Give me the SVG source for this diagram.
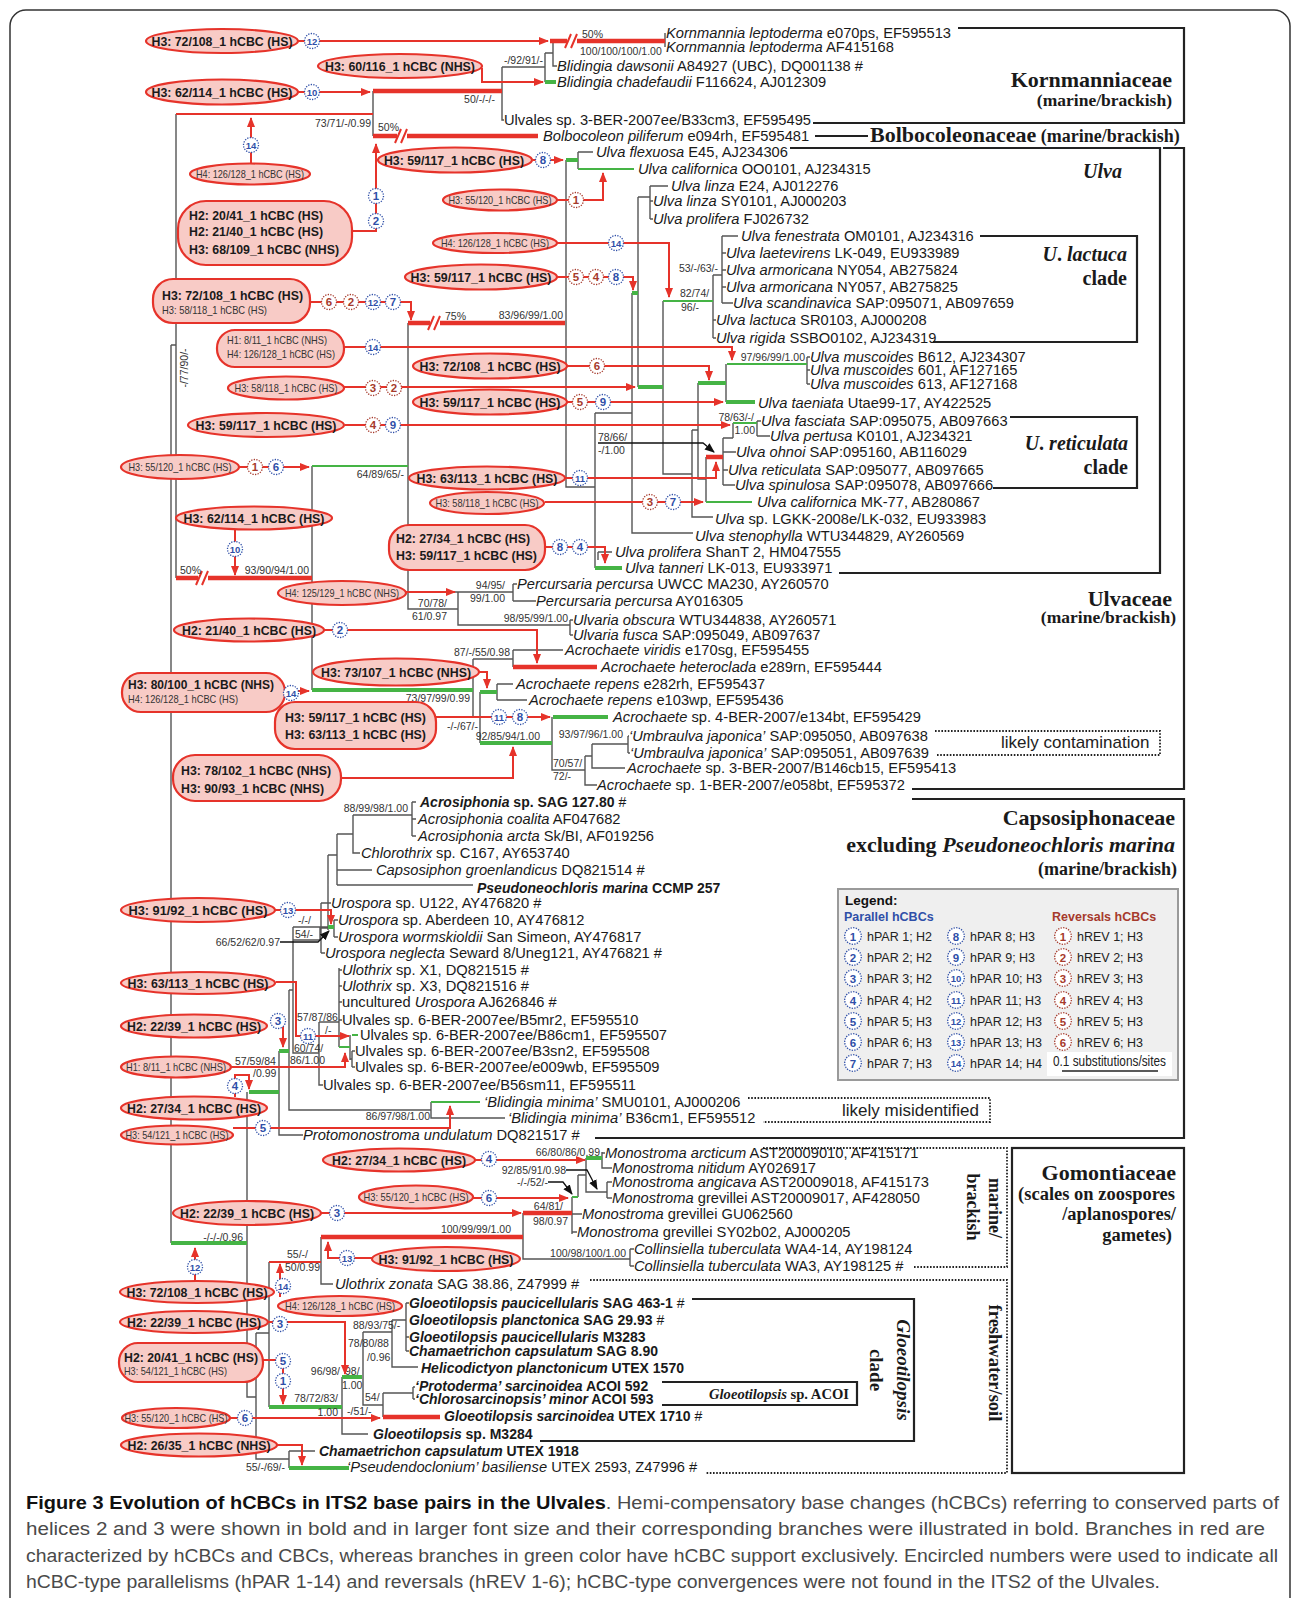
<svg xmlns="http://www.w3.org/2000/svg" width="1295" height="1598" viewBox="0 0 1295 1598">
<defs>
<marker id="ah" viewBox="0 0 10 10" refX="9" refY="5" markerWidth="10" markerHeight="10" markerUnits="userSpaceOnUse" orient="auto"><path d="M0,1 L10,5 L0,9 Z" fill="#e6332a"/></marker>
<marker id="bh" viewBox="0 0 10 10" refX="9" refY="5" markerWidth="10" markerHeight="10" markerUnits="userSpaceOnUse" orient="auto"><path d="M0,1 L10,5 L0,9 Z" fill="#111"/></marker>
<style>
.br{fill:none;stroke:#555;stroke-width:1.4}
.gn{fill:none;stroke:#45b445;stroke-width:2.2}
.gt{fill:none;stroke:#45b445;stroke-width:4.2}
.rt{fill:none;stroke:#e6332a;stroke-width:4.5}
.rl{fill:none;stroke:#e6332a;stroke-width:2}
.ra{fill:none;stroke:#e6332a;stroke-width:2;marker-end:url(#ah)}
.ka{fill:none;stroke:#111;stroke-width:1.3;marker-end:url(#bh)}
.bx{fill:none;stroke:#222;stroke-width:2.2}
.dt{fill:none;stroke:#222;stroke-width:1.8;stroke-dasharray:1.6 1.6}
.el{fill:#f8cbc6;stroke:#e6332a;stroke-width:2.2}
text{font-family:"Liberation Sans",Arial,sans-serif}
.t{font-size:14.7px;fill:#1a1a1a}
.tb{font-size:14px;font-weight:bold;fill:#1a1a1a}
.i{font-style:italic}
.s{font-size:10.5px;fill:#333}
.e{text-anchor:end}
.lb{font-size:13.5px;font-weight:bold;fill:#1a1a1a}
.ls{font-size:10.5px;fill:#333}
.m{text-anchor:middle}
.cb circle{fill:#fff;stroke:#2f4fa8;stroke-width:1.3;stroke-dasharray:1.3 1.3}
.cb text{fill:#2f4fa8;font-size:11.5px;font-weight:bold;text-anchor:middle}
.cr circle{fill:#fff;stroke:#a63a2c;stroke-width:1.3;stroke-dasharray:1.3 1.3}
.cr text{fill:#a63a2c;font-size:11.5px;font-weight:bold;text-anchor:middle}
.d2{font-size:9.5px !important}
.fam{font-family:"Liberation Serif","Times New Roman",serif;font-weight:bold;fill:#1a1a1a}
.lg{font-size:12.5px;fill:#222}
.cap{font-size:17.5px;fill:#4a4a4a}
</style>
</defs>
<rect width="1295" height="1598" fill="#fff"/>
<rect x="10" y="10" width="1280" height="1620" rx="16" fill="none" stroke="#333" stroke-width="1.5"/>

<g id="family-boxes">
<path class="bx" d="M958,28H1184V123H813"/>
<path class="bx" d="M815,136H868"/>
<path class="bx" d="M790,148H1160V573H839"/>
<path class="bx" d="M1163,148H1184V789H912"/>
<path class="bx" d="M980,236H1137V342H933"/>
<path class="bx" d="M1010,417H1137V488H993"/>
<path class="dt" d="M935,731H1160V755H937"/>
<path class="bx" d="M912,799H1184V1138H595"/>
<path class="dt" d="M748,1098H990V1122H763"/>
<rect class="bx" x="1012" y="1148" width="172" height="325"/>
<path class="dt" d="M763,1148H1007V1267H913"/>
<path class="dt" d="M590,1280H1007V1473H705"/>
<path class="bx" d="M692,1299H914V1441H540"/>
<path class="bx" d="M662,1382H857V1405H662"/>
</g>

<g id="family-labels">
<text class="fam" x="1172" y="87" font-size="22" text-anchor="end">Kornmanniaceae</text>
<text class="fam" x="1172" y="106" font-size="17.5" text-anchor="end">(marine/brackish)</text>
<text class="fam" x="870" y="142" font-size="22">Bolbocoleonaceae<tspan font-size="18"> (marine/brackish)</tspan></text>
<text class="fam" x="1122" y="178" font-size="20" font-style="italic" text-anchor="end">Ulva</text>
<text class="fam" x="1127" y="261" font-size="20" text-anchor="end"><tspan font-style="italic">U</tspan>. <tspan font-style="italic">lactuca</tspan></text>
<text class="fam" x="1127" y="285" font-size="20" text-anchor="end">clade</text>
<text class="fam" x="1128" y="450" font-size="20" text-anchor="end"><tspan font-style="italic">U</tspan>. <tspan font-style="italic">reticulata</tspan></text>
<text class="fam" x="1128" y="474" font-size="20" text-anchor="end">clade</text>
<text class="fam" x="1172" y="606" font-size="22" text-anchor="end">Ulvaceae</text>
<text class="fam" x="1176" y="623" font-size="17.5" text-anchor="end">(marine/brackish)</text>
<text x="1001" y="748" font-family="Liberation Serif,serif" font-size="17" fill="#222">likely contamination</text>
<text class="fam" x="1175" y="825" font-size="22" text-anchor="end">Capsosiphonaceae</text>
<text class="fam" x="1175" y="852" font-size="22" text-anchor="end">excluding <tspan font-style="italic">Pseudoneochloris marina</tspan></text>
<text class="fam" x="1177" y="875" font-size="18" text-anchor="end">(marine/brackish)</text>
<text x="842" y="1116" font-family="Liberation Serif,serif" font-size="17" fill="#222">likely misidentified</text>
<text class="fam" x="1176" y="1180" font-size="22" text-anchor="end">Gomontiaceae</text>
<text class="fam" x="1175" y="1200" font-size="18.5" text-anchor="end">(scales on zoospores</text>
<text class="fam" x="1176" y="1220" font-size="18.5" text-anchor="end">/aplanospores/</text>
<text class="fam" x="1172" y="1241" font-size="18.5" text-anchor="end">gametes)</text>
<text class="fam" font-size="18" text-anchor="middle" transform="translate(989,1208) rotate(90)">marine/</text>
<text class="fam" font-size="18" text-anchor="middle" transform="translate(967,1207) rotate(90)">brackish</text>
<text class="fam" font-size="18.5" text-anchor="middle" transform="translate(989,1363) rotate(90)">freshwater/soil</text>
<text class="fam" font-size="19" font-style="italic" text-anchor="middle" transform="translate(897,1370) rotate(90)">Gloeotilopsis</text>
<text class="fam" font-size="19" text-anchor="middle" transform="translate(870,1370) rotate(90)">clade</text>
<text class="fam" x="709" y="1399" font-size="15" textLength="140" lengthAdjust="spacingAndGlyphs"><tspan font-style="italic">Gloeotilopsis</tspan> sp. ACOI</text>
</g>

<g id="tree">
<path class="br" d="M176,114V578 M171,345V1243 M171,345H176 M373,91V136 M502,67V120H504 M502,67H545 M545,53V82 M545,53H553 M553,41V66H557 M566,160V487H595 M578,152V169 M578,152H593 M595,413V568 M595,413H632 M632,293V533H693 M638,197V387 M638,197H650 M650,186V219 M650,186H668 M650,201H653 M650,219H653 M663,301V474H692 M692,430V517H713 M692,430H698 M698,383V479H706 M706,457V502 M713,275V338 M713,275H722 M722,236V303 M722,236H738 M722,253H726 M722,270H726 M722,287H726 M722,303H733 M713,320H716 M713,338H716 M726,364V402 M807,357V384 M807,357H810 M807,370H810 M807,384H810 M723,438V485 M723,452H736 M723,470H728 M723,485H735 M723,438H733 M733,423V438 M757,421V436 M757,421H761 M757,436H770 M598,552H612 M598,552V560 M312,466V690 M408,323V609H458 M458,592V625H570 M570,620V635 M570,620H573 M570,635H573 M455,592H513 M513,584V601 M513,584H517 M513,601H536 M473,659V717 M473,659H513 M513,650V667 M513,650H563 M473,717H480 M480,692V743 M497,684V700 M497,684H513 M497,700H527 M552,717V770H585 M585,756V785H597 M585,756H592 M592,744V768H625 M592,744H628 M628,736V753 M628,736H629 M628,753H630 M665,33V47 M247,1092V1397H256 M256,1333V1459H289 M256,1333H269 M269,1262V1407 M289,1451V1468 M289,1451H315 M279,1051V1135H303 M289,990V1110H431 M289,990H293 M293,927V1053H319 M319,1022V1085H323 M319,1022H339 M339,968V1047 M339,970H342 M339,986H342 M339,1002H342 M339,1020H342 M350,1035V1060 M350,1059H352 M352,1051V1067 M352,1051H355 M352,1067H355 M431,1102V1118H505 M293,927H328 M293,940H320V927 M328,855V930 M321,903V953 M321,903H331 M321,953H325 M321,928H328 M334,920V937 M334,920H338 M334,937H338 M328,855H337 M337,834V885 M337,870H372 M337,885H473 M337,834H353 M353,815V853H360 M353,815H412 M412,802V836 M412,802H416 M412,819H416 M412,836H416 M321,1237V1284H333 M523,1213V1259H630 M630,1249V1266 M630,1249H634 M630,1266H634 M572,1197V1234 M572,1214H582 M572,1232H577 M578,1175V1197 M578,1175H586 M586,1158V1192H607 M607,1182V1198 M607,1182H612 M607,1198H612 M602,1152V1168H612 M602,1153H605 M342,1377V1434H368 M363,1332V1405H383 M363,1332H392 M392,1320V1367H418 M392,1320H406 M406,1303V1351 M406,1303H409 M406,1337H409 M406,1351H409 M383,1393V1417 M383,1393H413 M413,1387V1399 M413,1387H415 M413,1399H415"/>
<path class="gn" d="M578,169H634 M312,466H408 M663,301H713 M727,364H807 M733,423H757 M706,502H752 M431,1102H480 M339,1047H350 M352,1035H358 M572,1197H578"/>
<path class="gt" d="M545,82H556 M566,160H578 M632,293H638 M638,387H663 M698,383H726 M726,402H755 M595,568H622 M312,690H473 M480,692H497 M480,743H552 M553,717H608 M328,927H334 M279,1051H289 M249,1092H279 M171,1243H247 M586,1158H602 M269,1407H342 M342,1377H362 M289,1468H349"/>
<path class="rt" d="M550,41H665 M373,91H502 M373,136H538 M408,323H565 M176,578H312 M513,667H597 M706,457H723 M321,1237H523 M523,1213H572 M383,1417H440"/>
<path class="rl" d="M176,114H373 M269,1262H321"/>
<g id="breaks">
<rect x="567" y="34" width="10" height="14" fill="#fff"/><path class="rl" d="M565,48L571,34 M571,48L577,34"/>
<rect x="397" y="129" width="10" height="14" fill="#fff"/><path class="rl" d="M395,143L401,129 M401,143L407,129"/>
<rect x="430" y="316" width="10" height="14" fill="#fff"/><path class="rl" d="M428,330L434,316 M434,330L440,316"/>
<rect x="198" y="571" width="10" height="14" fill="#fff"/><path class="rl" d="M196,585L202,571 M202,585L208,571"/>
</g>
</g>

<g id="support-values">
<text class="s e" x="543" y="64">-/92/91/-</text>
<text class="s" x="582" y="38">50%</text>
<text class="s" x="580" y="55">100/100/100/1.00</text>
<text class="s e" x="495" y="103">50/-/-/-</text>
<text class="s e" x="371" y="127">73/71/-/0.99</text>
<text class="s" x="378" y="131">50%</text>
<text class="s e" x="718" y="272">53/-/63/-</text>
<text class="s" x="680" y="297">82/74/</text>
<text class="s" x="681" y="311">96/-</text>
<text class="s" x="445" y="320">75%</text>
<text class="s e" x="563" y="319">83/96/99/1.00</text>
<text class="s e" x="805" y="361">97/96/99/1.00</text>
<text class="s e" x="754" y="421">78/63/-/</text>
<text class="s e" x="755" y="434">1.00</text>
<text class="s" x="598" y="441">78/66/</text>
<text class="s" x="598" y="454">-/1.00</text>
<text class="s e" x="404" y="478">64/89/65/-</text>
<text class="s" x="180" y="574">50%</text>
<text class="s e" x="309" y="574">93/90/94/1.00</text>
<text class="s e" x="505" y="589">94/95/</text>
<text class="s e" x="505" y="602">99/1.00</text>
<text class="s e" x="447" y="607">70/78/</text>
<text class="s e" x="447" y="620">61/0.97</text>
<text class="s e" x="568" y="622">98/95/99/1.00</text>
<text class="s e" x="510" y="656">87/-/55/0.98</text>
<text class="s e" x="470" y="702">73/97/99/0.99</text>
<text class="s e" x="478" y="730">-/-/67/-</text>
<text class="s e" x="540" y="740">92/85/94/1.00</text>
<text class="s e" x="623" y="738">93/97/96/1.00</text>
<text class="s" x="553" y="767">70/57/</text>
<text class="s" x="553" y="780">72/-</text>
<text class="s e" x="408" y="812">88/99/98/1.00</text>
<text class="s" x="298" y="924">-/-/</text>
<text class="s" x="295" y="938">54/-</text>
<text class="s e" x="280" y="946">66/52/62/0.97</text>
<text class="s" x="297" y="1021">57/87/86</text>
<text class="s" x="325" y="1034">/-</text>
<text class="s" x="294" y="1052">60/74/</text>
<text class="s" x="290" y="1064">86/1.00</text>
<text class="s" x="235" y="1065">57/59/84</text>
<text class="s" x="253" y="1077">/0.99</text>
<text class="s e" x="430" y="1120">86/97/98/1.00</text>
<text class="s e" x="600" y="1156">66/80/86/0.99</text>
<text class="s e" x="566" y="1174">92/85/91/0.98</text>
<text class="s e" x="548" y="1186">-/-/52/-</text>
<text class="s e" x="563" y="1210">64/81/</text>
<text class="s e" x="568" y="1225">98/0.97</text>
<text class="s e" x="511" y="1233">100/99/99/1.00</text>
<text class="s e" x="626" y="1257">100/98/100/1.00</text>
<text class="s e" x="243" y="1241">-/-/-/0.96</text>
<text class="s" x="287" y="1258">55/-/</text>
<text class="s" x="285" y="1271">50/0.99</text>
<text class="s" x="353" y="1329">88/93/75/-</text>
<text class="s" x="348" y="1347">78/80/88</text>
<text class="s" x="367" y="1361">/0.96</text>
<text class="s e" x="340" y="1375">96/98/</text>
<text class="s" x="345" y="1375">98/</text>
<text class="s" x="342" y="1389">1.00</text>
<text class="s e" x="338" y="1402">78/72/83/</text>
<text class="s e" x="338" y="1416">1.00</text>
<text class="s" x="365" y="1401">54/</text>
<text class="s" x="347" y="1415">-/51/-</text>
<text class="s e" x="285" y="1471">55/-/69/-</text>
<text class="s" text-anchor="middle" transform="translate(188,368) rotate(-90)">-/77/90/-</text>
</g>

<g id="connectors">
<path class="ra" d="M298,41H548"/>
<path class="ra" d="M482,68V82H543"/>
<path class="ra" d="M298,92H370"/>
<path class="ra" d="M251,163V118"/>
<path class="ra" d="M352,231H376V144"/>
<path class="ra" d="M533,160H563"/>
<path class="ra" d="M557,200H603V173"/>
<path class="ra" d="M557,243H669V297"/>
<path class="ra" d="M557,277H633V290"/>
<path class="ra" d="M310,302H411V320"/>
<path class="ra" d="M344,347H732V360"/>
<path class="ra" d="M566,366H709V380"/>
<path class="ra" d="M344,387H635"/>
<path class="ra" d="M566,402H723"/>
<path class="ra" d="M345,425H730"/>
<path class="ra" d="M238,467H309"/>
<path class="ra" d="M565,478H716V462"/>
<path class="ra" d="M545,502H703"/>
<path class="ra" d="M235,530V575"/>
<path class="ra" d="M545,547H605V563"/>
<path class="ra" d="M406,592H455"/>
<path class="ra" d="M324,630H537V663"/>
<path class="ra" d="M478,672H487V688"/>
<path class="ra" d="M285,691H309"/>
<path class="ra" d="M436,717H550"/>
<path class="ra" d="M341,778H513V747"/>
<path class="ra" d="M275,910H331V924"/>
<path class="ra" d="M276,982H296V1036H349"/>
<path class="ra" d="M283,1021V1047"/>
<path class="ra" d="M230,1067H345V1053"/>
<path class="ra" d="M235,1097V1075H249V1089"/>
<path class="ra" d="M233,1128H450V1106"/>
<path class="ra" d="M475,1160H585"/>
<path class="ra" d="M473,1198H568"/>
<path class="ra" d="M321,1213H521"/>
<path class="ra" d="M372,1258H328V1242"/>
<path class="ra" d="M195,1282V1248"/>
<path class="ra" d="M280,1297V1264"/>
<path class="ra" d="M267,1322H345V1374"/>
<path class="ra" d="M263,1360H283V1404"/>
<path class="ra" d="M230,1418H380"/>
<path class="ra" d="M277,1445H302V1465"/>
<path class="ka" d="M598,443H703L714,452"/>
<path class="ka" d="M280,942H318L329,931"/>
<path class="ka" d="M566,1170H587L597,1189"/>
<path class="ka" d="M548,1182H563L572,1194"/>
</g>

<g id="hcbc-nodes">
<g id="n1"><ellipse class="el" cx="222" cy="41" rx="76" ry="12"/><text class="lb m" x="222" y="46" textLength="141" lengthAdjust="spacingAndGlyphs">H3: 72/108_1 hCBC (HS)</text></g>
<g id="n2"><ellipse class="el" cx="400" cy="66" rx="82" ry="12"/><text class="lb m" x="400" y="71" textLength="150" lengthAdjust="spacingAndGlyphs">H3: 60/116_1 hCBC (NHS)</text></g>
<g id="n3"><ellipse class="el" cx="222" cy="92" rx="76" ry="12.5"/><text class="lb m" x="222" y="97" textLength="141" lengthAdjust="spacingAndGlyphs">H3: 62/114_1 hCBC (HS)</text></g>
<g id="n4"><ellipse class="el" cx="250" cy="174" rx="60" ry="10.5"/><text class="ls m" x="250" y="178" textLength="108" lengthAdjust="spacingAndGlyphs">H4: 126/128_1 hCBC (HS)</text></g>
<g id="n5"><rect class="el" x="178" y="201" width="174" height="64" rx="28"/><text class="lb" x="189" y="219.5" textLength="134" lengthAdjust="spacingAndGlyphs">H2: 20/41_1 hCBC (HS)</text><text class="lb" x="189" y="236" textLength="134" lengthAdjust="spacingAndGlyphs">H2: 21/40_1 hCBC (HS)</text><text class="lb" x="189" y="254" textLength="150" lengthAdjust="spacingAndGlyphs">H3: 68/109_1 hCBC (NHS)</text></g>
<g id="n6"><ellipse class="el" cx="455" cy="160" rx="77" ry="12.5"/><text class="lb m" x="454" y="165" textLength="140" lengthAdjust="spacingAndGlyphs">H3: 59/117_1 hCBC (HS)</text></g>
<g id="n7"><ellipse class="el" cx="500" cy="200" rx="57" ry="10.5"/><text class="ls m" x="500" y="204" textLength="103" lengthAdjust="spacingAndGlyphs">H3: 55/120_1 hCBC (HS)</text></g>
<g id="n8"><ellipse class="el" cx="495" cy="243" rx="62" ry="10"/><text class="ls m" x="495" y="247" textLength="108" lengthAdjust="spacingAndGlyphs">H4:  126/128_1 hCBC (HS)</text></g>
<g id="n9"><ellipse class="el" cx="481" cy="277" rx="76" ry="12.5"/><text class="lb m" x="481" y="282" textLength="141" lengthAdjust="spacingAndGlyphs">H3: 59/117_1 hCBC (HS)</text></g>
<g id="n10"><rect class="el" x="153" y="279" width="157" height="44" rx="20"/><text class="lb" x="162" y="300" textLength="141" lengthAdjust="spacingAndGlyphs">H3: 72/108_1 hCBC (HS)</text><text class="ls" x="162" y="314" textLength="105" lengthAdjust="spacingAndGlyphs">H3: 58/118_1 hCBC  (HS)</text></g>
<g id="n11"><rect class="el" x="217" y="330" width="127" height="37" rx="18"/><text class="ls" x="227" y="344" textLength="100" lengthAdjust="spacingAndGlyphs">H1: 8/11_1 hCBC (NHS)</text><text class="ls" x="227" y="358" textLength="108" lengthAdjust="spacingAndGlyphs">H4: 126/128_1 hCBC (HS)</text></g>
<g id="n12"><ellipse class="el" cx="490" cy="366" rx="77" ry="12.5"/><text class="lb m" x="490" y="371" textLength="141" lengthAdjust="spacingAndGlyphs">H3: 72/108_1 hCBC (HS)</text></g>
<g id="n13"><ellipse class="el" cx="286" cy="388" rx="58" ry="11.5"/><text class="ls m" x="286" y="392" textLength="103" lengthAdjust="spacingAndGlyphs">H3: 58/118_1 hCBC (HS)</text></g>
<g id="n14"><ellipse class="el" cx="490" cy="402" rx="77" ry="12.5"/><text class="lb m" x="490" y="407" textLength="141" lengthAdjust="spacingAndGlyphs">H3: 59/117_1 hCBC (HS)</text></g>
<g id="n15"><ellipse class="el" cx="266" cy="425" rx="78" ry="12"/><text class="lb m" x="266" y="430" textLength="141" lengthAdjust="spacingAndGlyphs">H3: 59/117_1 hCBC (HS)</text></g>
<g id="n16"><ellipse class="el" cx="180" cy="467" rx="59" ry="12"/><text class="ls m" x="180" y="471" textLength="103" lengthAdjust="spacingAndGlyphs">H3: 55/120_1 hCBC (HS)</text></g>
<g id="n17"><ellipse class="el" cx="487" cy="478" rx="78" ry="11.5"/><text class="lb m" x="487" y="483" textLength="141" lengthAdjust="spacingAndGlyphs">H3: 63/113_1 hCBC (HS)</text></g>
<g id="n18"><ellipse class="el" cx="487" cy="503" rx="57" ry="11"/><text class="ls m" x="487" y="507" textLength="103" lengthAdjust="spacingAndGlyphs">H3: 58/118_1 hCBC (HS)</text></g>
<g id="n19"><ellipse class="el" cx="254" cy="518" rx="78" ry="11.5"/><text class="lb m" x="254" y="523" textLength="141" lengthAdjust="spacingAndGlyphs">H3: 62/114_1 hCBC (HS)</text></g>
<g id="n20"><rect class="el" x="389" y="525" width="156" height="45" rx="20"/><text class="lb" x="396" y="543" textLength="134" lengthAdjust="spacingAndGlyphs">H2: 27/34_1 hCBC (HS)</text><text class="lb" x="396" y="560" textLength="141" lengthAdjust="spacingAndGlyphs">H3: 59/117_1 hCBC (HS)</text></g>
<g id="n21"><ellipse class="el" cx="342" cy="593" rx="64" ry="12"/><text class="ls m" x="342" y="597" textLength="114" lengthAdjust="spacingAndGlyphs">H4: 125/129_1 hCBC (NHS)</text></g>
<g id="n22"><ellipse class="el" cx="249" cy="630" rx="75" ry="11.5"/><text class="lb m" x="249" y="635" textLength="134" lengthAdjust="spacingAndGlyphs">H2: 21/40_1 hCBC (HS)</text></g>
<g id="n23"><ellipse class="el" cx="396" cy="672" rx="83" ry="13.5"/><text class="lb m" x="396" y="677" textLength="150" lengthAdjust="spacingAndGlyphs">H3: 73/107_1 hCBC (NHS)</text></g>
<g id="n24"><rect class="el" x="122" y="673" width="163" height="39" rx="19"/><text class="lb" x="128" y="689" textLength="146" lengthAdjust="spacingAndGlyphs">H3: 80/100_1 hCBC (NHS)</text><text class="ls" x="128" y="702.5" textLength="110" lengthAdjust="spacingAndGlyphs">H4:  126/128_1 hCBC (HS)</text></g>
<g id="n25"><rect class="el" x="275" y="702" width="161" height="47" rx="20"/><text class="lb" x="285" y="722" textLength="141" lengthAdjust="spacingAndGlyphs">H3: 59/117_1 hCBC (HS)</text><text class="lb" x="285" y="739" textLength="141" lengthAdjust="spacingAndGlyphs">H3: 63/113_1 hCBC (HS)</text></g>
<g id="n26"><rect class="el" x="173" y="755" width="168" height="46" rx="22"/><text class="lb" x="181" y="775" textLength="150" lengthAdjust="spacingAndGlyphs">H3: 78/102_1 hCBC (NHS)</text><text class="lb" x="181" y="793" textLength="143" lengthAdjust="spacingAndGlyphs">H3: 90/93_1 hCBC (NHS)</text></g>
<g id="n27"><ellipse class="el" cx="198" cy="910" rx="77" ry="12"/><text class="lb m" x="198" y="915" textLength="139" lengthAdjust="spacingAndGlyphs">H3:  91/92_1 hCBC (HS)</text></g>
<g id="n28"><ellipse class="el" cx="198" cy="983" rx="77" ry="11"/><text class="lb m" x="198" y="988" textLength="141" lengthAdjust="spacingAndGlyphs">H3: 63/113_1 hCBC (HS)</text></g>
<g id="n29"><ellipse class="el" cx="194" cy="1026" rx="73" ry="11.5"/><text class="lb m" x="194" y="1031" textLength="134" lengthAdjust="spacingAndGlyphs">H2: 22/39_1 hCBC (HS)</text></g>
<g id="n30"><ellipse class="el" cx="176" cy="1067" rx="55" ry="10.5"/><text class="ls m" x="176" y="1071" textLength="100" lengthAdjust="spacingAndGlyphs">H1: 8/11_1 hCBC (NHS)</text></g>
<g id="n31"><ellipse class="el" cx="194" cy="1108" rx="73" ry="11.5"/><text class="lb m" x="194" y="1113" textLength="134" lengthAdjust="spacingAndGlyphs">H2: 27/34_1 hCBC (HS)</text></g>
<g id="n32"><ellipse class="el" cx="177" cy="1135" rx="56" ry="9.5"/><text class="ls m" x="177" y="1139" textLength="103" lengthAdjust="spacingAndGlyphs">H3: 54/121_1 hCBC (HS)</text></g>
<g id="n33"><ellipse class="el" cx="399" cy="1160" rx="76" ry="11.5"/><text class="lb m" x="399" y="1165" textLength="134" lengthAdjust="spacingAndGlyphs">H2: 27/34_1 hCBC (HS)</text></g>
<g id="n34"><ellipse class="el" cx="416" cy="1197" rx="57" ry="11.5"/><text class="ls m" x="416" y="1201" textLength="105" lengthAdjust="spacingAndGlyphs">H3:  55/120_1 hCBC (HS)</text></g>
<g id="n35"><ellipse class="el" cx="247" cy="1213" rx="74" ry="12"/><text class="lb m" x="247" y="1218" textLength="134" lengthAdjust="spacingAndGlyphs">H2: 22/39_1 hCBC (HS)</text></g>
<g id="n36"><ellipse class="el" cx="446" cy="1259" rx="74" ry="12"/><text class="lb m" x="446" y="1264" textLength="135" lengthAdjust="spacingAndGlyphs">H3: 91/92_1 hCBC (HS)</text></g>
<g id="n37"><ellipse class="el" cx="197" cy="1292" rx="77" ry="11"/><text class="lb m" x="197" y="1297" textLength="141" lengthAdjust="spacingAndGlyphs">H3: 72/108_1 hCBC (HS)</text></g>
<g id="n38"><ellipse class="el" cx="340" cy="1306" rx="62" ry="10"/><text class="ls m" x="340" y="1310" textLength="110" lengthAdjust="spacingAndGlyphs">H4:  126/128_1 hCBC (HS)</text></g>
<g id="n39"><ellipse class="el" cx="194" cy="1322" rx="74" ry="11"/><text class="lb m" x="194" y="1327" textLength="134" lengthAdjust="spacingAndGlyphs">H2: 22/39_1 hCBC (HS)</text></g>
<g id="n40"><rect class="el" x="119" y="1343" width="144" height="39" rx="19"/><text class="lb" x="124" y="1362" textLength="134" lengthAdjust="spacingAndGlyphs">H2: 20/41_1 hCBC (HS)</text><text class="ls" x="124" y="1374.5" textLength="103" lengthAdjust="spacingAndGlyphs">H3: 54/121_1 hCBC (HS)</text></g>
<g id="n41"><ellipse class="el" cx="176" cy="1418" rx="54" ry="10"/><text class="ls m" x="176" y="1422" textLength="103" lengthAdjust="spacingAndGlyphs">H3: 55/120_1 hCBC (HS)</text></g>
<g id="n42"><ellipse class="el" cx="199" cy="1445" rx="78" ry="11.5"/><text class="lb m" x="199" y="1450" textLength="143" lengthAdjust="spacingAndGlyphs">H2: 26/35_1 hCBC (NHS)</text></g>
</g>

<g id="markers">
<g class="cb"><circle cx="312" cy="41" r="7.5"/><text class="d2" x="312" y="44.5">12</text></g>
<g class="cb"><circle cx="312" cy="92" r="7.5"/><text class="d2" x="312" y="95.5">10</text></g>
<g class="cb"><circle cx="251" cy="145" r="7.5"/><text class="d2" x="251" y="148.5">14</text></g>
<g class="cb"><circle cx="376" cy="196" r="7.5"/><text x="376" y="200">1</text></g>
<g class="cb"><circle cx="376" cy="221" r="7.5"/><text x="376" y="225">2</text></g>
<g class="cb"><circle cx="543" cy="160" r="7.5"/><text x="543" y="164">8</text></g>
<g class="cr"><circle cx="576" cy="200" r="7.5"/><text x="576" y="204">1</text></g>
<g class="cb"><circle cx="616" cy="243" r="7.5"/><text class="d2" x="616" y="246.5">14</text></g>
<g class="cr"><circle cx="576" cy="277" r="7.5"/><text x="576" y="281">5</text></g>
<g class="cr"><circle cx="596" cy="277" r="7.5"/><text x="596" y="281">4</text></g>
<g class="cb"><circle cx="616" cy="277" r="7.5"/><text x="616" y="281">8</text></g>
<g class="cr"><circle cx="329" cy="302" r="7.5"/><text x="329" y="306">6</text></g>
<g class="cr"><circle cx="351" cy="302" r="7.5"/><text x="351" y="306">2</text></g>
<g class="cb"><circle cx="373" cy="302" r="7.5"/><text class="d2" x="373" y="305.5">12</text></g>
<g class="cb"><circle cx="393" cy="302" r="7.5"/><text x="393" y="306">7</text></g>
<g class="cb"><circle cx="373" cy="347" r="7.5"/><text class="d2" x="373" y="350.5">14</text></g>
<g class="cr"><circle cx="597" cy="366" r="7.5"/><text x="597" y="370">6</text></g>
<g class="cr"><circle cx="373" cy="388" r="7.5"/><text x="373" y="392">3</text></g>
<g class="cr"><circle cx="394" cy="388" r="7.5"/><text x="394" y="392">2</text></g>
<g class="cr"><circle cx="580" cy="402" r="7.5"/><text x="580" y="406">5</text></g>
<g class="cb"><circle cx="603" cy="402" r="7.5"/><text x="603" y="406">9</text></g>
<g class="cr"><circle cx="373" cy="425" r="7.5"/><text x="373" y="429">4</text></g>
<g class="cb"><circle cx="393" cy="425" r="7.5"/><text x="393" y="429">9</text></g>
<g class="cr"><circle cx="255" cy="467" r="7.5"/><text x="255" y="471">1</text></g>
<g class="cb"><circle cx="276" cy="467" r="7.5"/><text x="276" y="471">6</text></g>
<g class="cb"><circle cx="580" cy="478" r="7.5"/><text class="d2" x="580" y="481.5">11</text></g>
<g class="cr"><circle cx="650" cy="502" r="7.5"/><text x="650" y="506">3</text></g>
<g class="cb"><circle cx="673" cy="502" r="7.5"/><text x="673" y="506">7</text></g>
<g class="cb"><circle cx="235" cy="549" r="7.5"/><text class="d2" x="235" y="552.5">10</text></g>
<g class="cb"><circle cx="560" cy="547" r="7.5"/><text x="560" y="551">8</text></g>
<g class="cb"><circle cx="580" cy="547" r="7.5"/><text x="580" y="551">4</text></g>
<g class="cb"><circle cx="340" cy="630" r="7.5"/><text x="340" y="634">2</text></g>
<g class="cb"><circle cx="291" cy="693" r="7.5"/><text class="d2" x="291" y="696.5">14</text></g>
<g class="cb"><circle cx="499" cy="717" r="7.5"/><text class="d2" x="499" y="720.5">11</text></g>
<g class="cb"><circle cx="520" cy="717" r="7.5"/><text x="520" y="721">8</text></g>
<g class="cb"><circle cx="288" cy="910" r="7.5"/><text class="d2" x="288" y="913.5">13</text></g>
<g class="cb"><circle cx="308" cy="1036" r="7.5"/><text class="d2" x="308" y="1039.5">11</text></g>
<g class="cb"><circle cx="278" cy="1021" r="7.5"/><text x="278" y="1025">3</text></g>
<g class="cb"><circle cx="235" cy="1086" r="7.5"/><text x="235" y="1090">4</text></g>
<g class="cb"><circle cx="263" cy="1128" r="7.5"/><text x="263" y="1132">5</text></g>
<g class="cb"><circle cx="489" cy="1159" r="7.5"/><text x="489" y="1163">4</text></g>
<g class="cb"><circle cx="489" cy="1198" r="7.5"/><text x="489" y="1202">6</text></g>
<g class="cb"><circle cx="337" cy="1213" r="7.5"/><text x="337" y="1217">3</text></g>
<g class="cb"><circle cx="347" cy="1258" r="7.5"/><text class="d2" x="347" y="1261.5">13</text></g>
<g class="cb"><circle cx="195" cy="1267" r="7.5"/><text class="d2" x="195" y="1270.5">12</text></g>
<g class="cb"><circle cx="283" cy="1286" r="7.5"/><text class="d2" x="283" y="1289.5">14</text></g>
<g class="cb"><circle cx="280" cy="1324" r="7.5"/><text x="280" y="1328">3</text></g>
<g class="cb"><circle cx="283" cy="1361" r="7.5"/><text x="283" y="1365">5</text></g>
<g class="cb"><circle cx="283" cy="1381" r="7.5"/><text x="283" y="1385">1</text></g>
<g class="cb"><circle cx="245" cy="1418" r="7.5"/><text x="245" y="1422">6</text></g>
</g>

<g id="taxa">
<text class="t" x="666" y="38"><tspan class="i">Kornmannia leptoderma</tspan> e070ps, EF595513</text>
<text class="t" x="666" y="52"><tspan class="i">Kornmannia leptoderma</tspan> AF415168</text>
<text class="t" x="557" y="71"><tspan class="i">Blidingia dawsonii</tspan> A84927 (UBC), DQ001138 #</text>
<text class="t" x="557" y="87"><tspan class="i">Blidingia chadefaudii</tspan> F116624, AJ012309</text>
<text class="t" x="504" y="125">Ulvales sp. 3-BER-2007ee/B33cm3, EF595495</text>
<text class="t" x="543" y="141"><tspan class="i">Bolbocoleon piliferum</tspan> e094rh, EF595481</text>
<text class="t" x="596" y="157"><tspan class="i">Ulva flexuosa</tspan> E45, AJ234306</text>
<text class="t" x="638" y="174"><tspan class="i">Ulva californica</tspan> OO0101, AJ234315</text>
<text class="t" x="671" y="191"><tspan class="i">Ulva linza</tspan> E24, AJ012276</text>
<text class="t" x="653" y="206"><tspan class="i">Ulva linza</tspan> SY0101, AJ000203</text>
<text class="t" x="653" y="224"><tspan class="i">Ulva prolifera</tspan> FJ026732</text>
<text class="t" x="741" y="241"><tspan class="i">Ulva fenestrata</tspan> OM0101, AJ234316</text>
<text class="t" x="726" y="258"><tspan class="i">Ulva laetevirens</tspan> LK-049, EU933989</text>
<text class="t" x="726" y="275"><tspan class="i">Ulva armoricana</tspan> NY054, AB275824</text>
<text class="t" x="726" y="292"><tspan class="i">Ulva armoricana</tspan> NY057, AB275825</text>
<text class="t" x="733" y="308"><tspan class="i">Ulva scandinavica</tspan> SAP:095071, AB097659</text>
<text class="t" x="716" y="325"><tspan class="i">Ulva lactuca</tspan> SR0103, AJ000208</text>
<text class="t" x="716" y="343"><tspan class="i">Ulva rigida</tspan> SSBO0102, AJ234319</text>
<text class="t" x="810" y="362"><tspan class="i">Ulva muscoides</tspan> B612, AJ234307</text>
<text class="t" x="810" y="375"><tspan class="i">Ulva muscoides</tspan> 601, AF127165</text>
<text class="t" x="810" y="389"><tspan class="i">Ulva muscoides</tspan> 613, AF127168</text>
<text class="t" x="758" y="408"><tspan class="i">Ulva taeniata</tspan> Utae99-17, AY422525</text>
<text class="t" x="761" y="426"><tspan class="i">Ulva fasciata</tspan> SAP:095075, AB097663</text>
<text class="t" x="770" y="441"><tspan class="i">Ulva pertusa</tspan> K0101, AJ234321</text>
<text class="t" x="736" y="457"><tspan class="i">Ulva ohnoi</tspan> SAP:095160, AB116029</text>
<text class="t" x="728" y="475"><tspan class="i">Ulva reticulata</tspan> SAP:095077, AB097665</text>
<text class="t" x="735" y="490"><tspan class="i">Ulva spinulosa</tspan> SAP:095078, AB097666</text>
<text class="t" x="757" y="507"><tspan class="i">Ulva californica</tspan> MK-77, AB280867</text>
<text class="t" x="715" y="524"><tspan class="i">Ulva</tspan> sp. LGKK-2008e/LK-032, EU933983</text>
<text class="t" x="695" y="541"><tspan class="i">Ulva stenophylla</tspan> WTU344829, AY260569</text>
<text class="t" x="615" y="557"><tspan class="i">Ulva prolifera</tspan> ShanT 2, HM047555</text>
<text class="t" x="625" y="573"><tspan class="i">Ulva tanneri</tspan> LK-013, EU933971</text>
<text class="t" x="517" y="589"><tspan class="i">Percursaria percursa</tspan> UWCC MA230, AY260570</text>
<text class="t" x="536" y="606"><tspan class="i">Percursaria percursa</tspan> AY016305</text>
<text class="t" x="573" y="625"><tspan class="i">Ulvaria obscura</tspan> WTU344838, AY260571</text>
<text class="t" x="573" y="640"><tspan class="i">Ulvaria fusca</tspan> SAP:095049, AB097637</text>
<text class="t" x="565" y="655"><tspan class="i">Acrochaete viridis</tspan> e170sg, EF595455</text>
<text class="t" x="601" y="672"><tspan class="i">Acrochaete heteroclada</tspan> e289rn, EF595444</text>
<text class="t" x="516" y="689"><tspan class="i">Acrochaete repens</tspan> e282rh, EF595437</text>
<text class="t" x="529" y="705"><tspan class="i">Acrochaete repens</tspan> e103wp, EF595436</text>
<text class="t" x="613" y="722"><tspan class="i">Acrochaete</tspan> sp. 4-BER-2007/e134bt, EF595429</text>
<text class="t" x="629" y="741"><tspan class="i">‘Umbraulva japonica’</tspan> SAP:095050, AB097638</text>
<text class="t" x="630" y="758"><tspan class="i">‘Umbraulva japonica’</tspan> SAP:095051, AB097639</text>
<text class="t" x="627" y="773"><tspan class="i">Acrochaete</tspan> sp. 3-BER-2007/B146cb15, EF595413</text>
<text class="t" x="597" y="790"><tspan class="i">Acrochaete</tspan> sp. 1-BER-2007/e058bt, EF595372</text>
<text class="tb" x="420" y="807"><tspan class="i">Acrosiphonia</tspan> sp. SAG 127.80 <tspan font-weight="normal">#</tspan></text>
<text class="t" x="418" y="824"><tspan class="i">Acrosiphonia coalita</tspan> AF047682</text>
<text class="t" x="418" y="841"><tspan class="i">Acrosiphonia arcta</tspan> Sk/BI, AF019256</text>
<text class="t" x="361" y="858"><tspan class="i">Chlorothrix</tspan> sp. C167, AY653740</text>
<text class="t" x="376" y="875"><tspan class="i">Capsosiphon groenlandicus</tspan> DQ821514 #</text>
<text class="tb" x="477" y="893"><tspan class="i">Pseudoneochloris marina</tspan> CCMP 257</text>
<text class="t" x="331" y="908"><tspan class="i">Urospora</tspan> sp. U122, AY476820 #</text>
<text class="t" x="338" y="925"><tspan class="i">Urospora</tspan> sp. Aberdeen 10, AY476812</text>
<text class="t" x="338" y="942"><tspan class="i">Urospora wormskioldii</tspan> San Simeon, AY476817</text>
<text class="t" x="325" y="958"><tspan class="i">Urospora neglecta</tspan> Seward 8/Uneg121, AY476821 #</text>
<text class="t" x="342" y="975"><tspan class="i">Ulothrix</tspan> sp. X1, DQ821515 #</text>
<text class="t" x="342" y="991"><tspan class="i">Ulothrix</tspan> sp. X3, DQ821516 #</text>
<text class="t" x="342" y="1007">uncultured <tspan class="i">Urospora</tspan>  AJ626846 #</text>
<text class="t" x="342" y="1025">Ulvales sp. 6-BER-2007ee/B5mr2, EF595510</text>
<text class="t" x="360" y="1040">Ulvales sp. 6-BER-2007ee/B86cm1, EF595507</text>
<text class="t" x="355" y="1056">Ulvales sp. 6-BER-2007ee/B3sn2, EF595508</text>
<text class="t" x="355" y="1072">Ulvales sp. 6-BER-2007ee/e009wb, EF595509</text>
<text class="t" x="323" y="1090">Ulvales sp. 6-BER-2007ee/B56sm11, EF595511</text>
<text class="t" x="484" y="1107"><tspan class="i">‘Blidingia minima’</tspan> SMU0101, AJ000206</text>
<text class="t" x="508" y="1123"><tspan class="i">‘Blidingia minima’</tspan> B36cm1, EF595512</text>
<text class="t" x="303" y="1140"><tspan class="i">Protomonostroma undulatum</tspan> DQ821517 #</text>
<text class="t" x="605" y="1158"><tspan class="i">Monostroma arcticum</tspan> AST20009010, AF415171</text>
<text class="t" x="612" y="1173"><tspan class="i">Monostroma nitidum</tspan> AY026917</text>
<text class="t" x="612" y="1187"><tspan class="i">Monostroma angicava</tspan> AST20009018, AF415173</text>
<text class="t" x="612" y="1203"><tspan class="i">Monostroma</tspan> grevillei AST20009017, AF428050</text>
<text class="t" x="582" y="1219"><tspan class="i">Monostroma</tspan> grevillei GU062560</text>
<text class="t" x="577" y="1237"><tspan class="i">Monostroma</tspan> grevillei SY02b02, AJ000205</text>
<text class="t" x="634" y="1254"><tspan class="i">Collinsiella tuberculata</tspan> WA4-14, AY198124</text>
<text class="t" x="634" y="1271"><tspan class="i">Collinsiella tuberculata</tspan> WA3, AY198125 #</text>
<text class="t" x="335" y="1289"><tspan class="i">Ulothrix zonata</tspan> SAG 38.86, Z47999 #</text>
<text class="tb" x="409" y="1308"><tspan class="i">Gloeotilopsis paucicellularis</tspan> SAG 463-1<tspan font-weight="normal"> #</tspan></text>
<text class="tb" x="409" y="1325"><tspan class="i">Gloeotilopsis planctonica</tspan> SAG 29.93<tspan font-weight="normal"> #</tspan></text>
<text class="tb" x="409" y="1342"><tspan class="i">Gloeotilopsis paucicellularis</tspan> M3283</text>
<text class="tb" x="409" y="1356"><tspan class="i">Chamaetrichon capsulatum</tspan> SAG 8.90</text>
<text class="tb" x="421" y="1373"><tspan class="i">Helicodictyon planctonicum</tspan> UTEX 1570</text>
<text class="tb" x="415" y="1391" font-size="13.5"><tspan class="i">‘Protoderma’ sarcinoidea</tspan> ACOI 592</text>
<text class="tb" x="415" y="1404" font-size="13.5"><tspan class="i">‘Chlorosarcinopsis’ minor</tspan> ACOI 593</text>
<text class="tb" x="444" y="1421"><tspan class="i">Gloeotilopsis sarcinoidea</tspan> UTEX 1710<tspan font-weight="normal"> #</tspan></text>
<text class="tb" x="373" y="1439"><tspan class="i">Gloeotilopsis</tspan> sp. M3284</text>
<text class="tb" x="319" y="1456"><tspan class="i">Chamaetrichon capsulatum</tspan> UTEX 1918</text>
<text class="t" x="347" y="1472"><tspan class="i">‘Pseudendoclonium’ basiliense</tspan> UTEX 2593, Z47996 #</text>
</g>

<g id="legend">
<rect x="838" y="889" width="340" height="191" fill="#efefef" stroke="#9a9a9a" stroke-width="2"/>
<text x="845" y="905" font-size="13.5" font-weight="bold" fill="#111">Legend:</text>
<text x="844" y="921" font-size="12.5" font-weight="bold" fill="#2f4fa8">Parallel hCBCs</text>
<text x="1052" y="921" font-size="12.5" font-weight="bold" fill="#a63a2c">Reversals hCBCs</text>
<g class="cb"><circle cx="853" cy="936" r="8.3"/><text x="853" y="940.5">1</text></g><text class="lg" x="867" y="940.5">hPAR 1; H2</text>
<g class="cb"><circle cx="853" cy="957" r="8.3"/><text x="853" y="961.5">2</text></g><text class="lg" x="867" y="961.5">hPAR 2; H2</text>
<g class="cb"><circle cx="853" cy="978" r="8.3"/><text x="853" y="982.5">3</text></g><text class="lg" x="867" y="982.5">hPAR 3; H2</text>
<g class="cb"><circle cx="853" cy="1000" r="8.3"/><text x="853" y="1004.5">4</text></g><text class="lg" x="867" y="1004.5">hPAR 4; H2</text>
<g class="cb"><circle cx="853" cy="1021" r="8.3"/><text x="853" y="1025.5">5</text></g><text class="lg" x="867" y="1025.5">hPAR 5; H3</text>
<g class="cb"><circle cx="853" cy="1042" r="8.3"/><text x="853" y="1046.5">6</text></g><text class="lg" x="867" y="1046.5">hPAR 6; H3</text>
<g class="cb"><circle cx="853" cy="1063" r="8.3"/><text x="853" y="1067.5">7</text></g><text class="lg" x="867" y="1067.5">hPAR 7; H3</text>
<g class="cb"><circle cx="956" cy="936" r="8.3"/><text x="956" y="940.5">8</text></g><text class="lg" x="970" y="940.5">hPAR 8; H3</text>
<g class="cb"><circle cx="956" cy="957" r="8.3"/><text x="956" y="961.5">9</text></g><text class="lg" x="970" y="961.5">hPAR 9; H3</text>
<g class="cb"><circle cx="956" cy="978" r="8.3"/><text class="d2" x="956" y="982">10</text></g><text class="lg" x="970" y="982.5">hPAR 10; H3</text>
<g class="cb"><circle cx="956" cy="1000" r="8.3"/><text class="d2" x="956" y="1004">11</text></g><text class="lg" x="970" y="1004.5">hPAR 11; H3</text>
<g class="cb"><circle cx="956" cy="1021" r="8.3"/><text class="d2" x="956" y="1025">12</text></g><text class="lg" x="970" y="1025.5">hPAR 12; H3</text>
<g class="cb"><circle cx="956" cy="1042" r="8.3"/><text class="d2" x="956" y="1046">13</text></g><text class="lg" x="970" y="1046.5">hPAR 13; H3</text>
<g class="cb"><circle cx="956" cy="1063" r="8.3"/><text class="d2" x="956" y="1067">14</text></g><text class="lg" x="970" y="1067.5">hPAR 14; H4</text>
<g class="cr"><circle cx="1063" cy="936" r="8.3"/><text x="1063" y="940.5">1</text></g><text class="lg" x="1077" y="940.5">hREV 1; H3</text>
<g class="cr"><circle cx="1063" cy="957" r="8.3"/><text x="1063" y="961.5">2</text></g><text class="lg" x="1077" y="961.5">hREV 2; H3</text>
<g class="cr"><circle cx="1063" cy="978" r="8.3"/><text x="1063" y="982.5">3</text></g><text class="lg" x="1077" y="982.5">hREV 3; H3</text>
<g class="cr"><circle cx="1063" cy="1000" r="8.3"/><text x="1063" y="1004.5">4</text></g><text class="lg" x="1077" y="1004.5">hREV 4; H3</text>
<g class="cr"><circle cx="1063" cy="1021" r="8.3"/><text x="1063" y="1025.5">5</text></g><text class="lg" x="1077" y="1025.5">hREV 5; H3</text>
<g class="cr"><circle cx="1063" cy="1042" r="8.3"/><text x="1063" y="1046.5">6</text></g><text class="lg" x="1077" y="1046.5">hREV 6; H3</text>
<rect x="1047" y="1052" width="125" height="24" fill="#fff"/>
<text x="1053" y="1066" font-family="Liberation Serif,serif" font-size="14" fill="#222" textLength="113" lengthAdjust="spacingAndGlyphs">0.1 substitutions/sites</text>
<path d="M1062,1071H1158" stroke="#222" stroke-width="1.5"/>
</g>

<g id="caption">
<text class="cap" x="26" y="1509" textLength="1253" lengthAdjust="spacingAndGlyphs"><tspan font-weight="bold" fill="#111">Figure 3 Evolution of hCBCs in ITS2 base pairs in the Ulvales</tspan>. Hemi-compensatory base changes (hCBCs) referring to conserved parts of</text>
<text class="cap" x="26" y="1535" textLength="1239" lengthAdjust="spacingAndGlyphs">helices 2 and 3 were shown in bold and in larger font size and their corresponding branches were illustrated in bold. Branches in red are</text>
<text class="cap" x="26" y="1562" textLength="1252" lengthAdjust="spacingAndGlyphs">characterized by hCBCs and CBCs, whereas branches in green color have hCBC support exclusively. Encircled numbers were used to indicate all</text>
<text class="cap" x="26" y="1588" textLength="1134" lengthAdjust="spacingAndGlyphs">hCBC-type parallelisms (hPAR 1-14) and reversals (hREV 1-6); hCBC-type convergences were not found in the ITS2 of the Ulvales.</text>
</g>
</svg>
